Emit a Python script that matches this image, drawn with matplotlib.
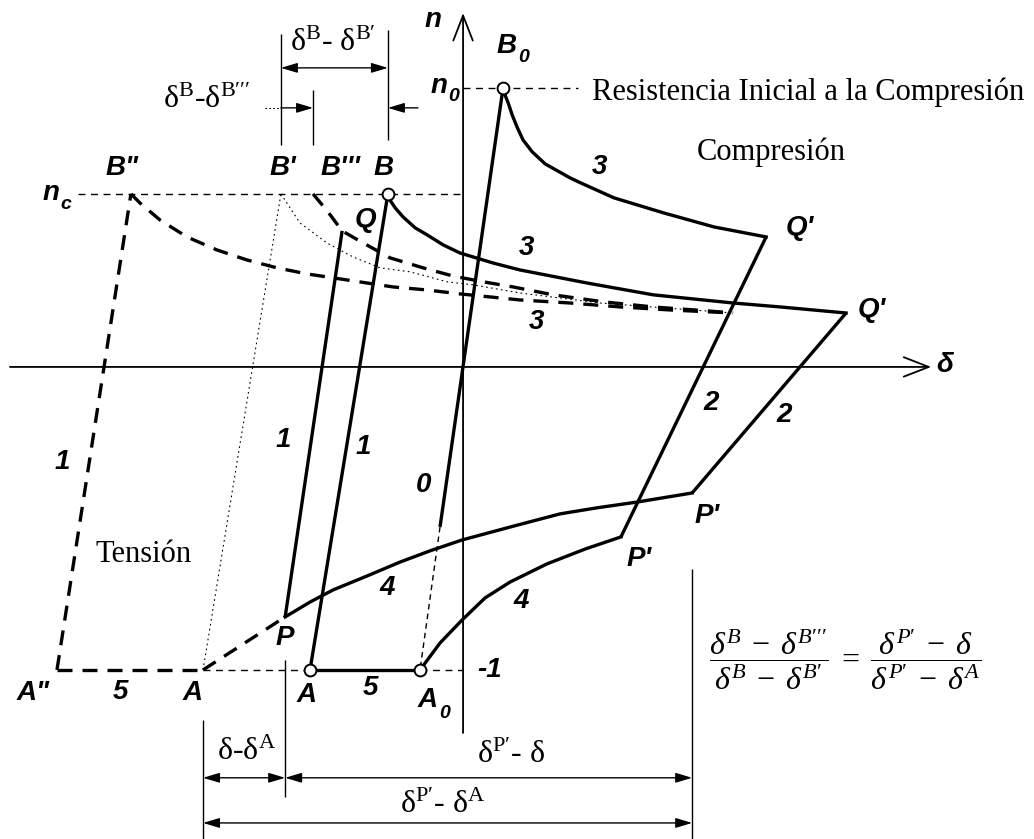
import numpy as np
import matplotlib.pyplot as plt

plt.rcParams['mathtext.fontset'] = 'custom'
plt.rcParams['mathtext.rm'] = 'Liberation Serif'
plt.rcParams['mathtext.it'] = 'Liberation Serif:italic'
plt.rcParams['mathtext.bf'] = 'Liberation Serif:bold'

# puntos característicos (delta, n), n normalizado con n = -1 en la rama de tensión
B0 = (0.132, 0.921)
B = (-0.248, 0.571)
B2 = (-1.096, 0.571)     # B''
B1 = (-0.601, 0.571)     # B'
B3 = (-0.495, 0.571)     # B'''
Q = (-0.399, 0.449)
Q1 = (1.000, 0.429)      # Q' superior
Q2 = (1.264, 0.178)      # Q' derecho
P = (-0.587, -0.825)
P1 = (0.521, -0.561)     # P' inferior
P2 = (0.756, -0.416)     # P' derecho
A2 = (-1.340, -1.0)      # A''
A_izq = (-0.858, -1.0)
A = (-0.505, -1.0)
A0 = (-0.142, -1.0)
quiebre0 = (-0.076, -0.528)

# rama 3 desde B0
c3_sup_d = [0.132, 0.149, 0.162, 0.178, 0.198, 0.228, 0.271, 0.353, 0.389, 0.498, 0.663, 0.828, 1.000]
c3_sup_n = [0.914, 0.871, 0.832, 0.792, 0.749, 0.710, 0.670, 0.624, 0.607, 0.558, 0.508, 0.462, 0.429]
# rama 3 desde B
c3_med_d = [-0.248, -0.224, -0.198, -0.158, -0.119, -0.066, -0.010, 0.099, 0.188, 0.409, 0.627, 0.891, 1.046, 1.264]
c3_med_n = [0.561, 0.525, 0.495, 0.459, 0.436, 0.403, 0.376, 0.343, 0.320, 0.277, 0.238, 0.211, 0.198, 0.178]
# rama 3 desde B'' (trazos)
c3_b2_d = [-1.096, -1.066, -1.000, -0.911, -0.812, -0.713, -0.614, -0.515, -0.429, -0.317, -0.231, -0.119, -0.010, 0.089, 0.188, 0.353, 0.518, 0.683, 0.891]
c3_b2_n = [0.571, 0.541, 0.485, 0.429, 0.386, 0.353, 0.327, 0.307, 0.294, 0.277, 0.264, 0.254, 0.241, 0.231, 0.221, 0.211, 0.198, 0.188, 0.178]
# rama 3 desde B''' pasando por Q (trazos)
c3_b3_d = [-0.495, -0.446, -0.399, -0.347, -0.241, -0.132, -0.033, 0.066, 0.165, 0.297, 0.462, 0.627, 0.805, 0.891]
c3_b3_n = [0.571, 0.512, 0.449, 0.419, 0.360, 0.327, 0.300, 0.281, 0.264, 0.238, 0.215, 0.198, 0.185, 0.178]
# rama 3 desde B' (punteada)
c3_b1_d = [-0.601, -0.538, -0.449, -0.363, -0.274, -0.175, -0.053, 0.033, 0.188, 0.452, 0.716, 0.891]
c3_b1_n = [0.571, 0.475, 0.409, 0.363, 0.327, 0.314, 0.281, 0.271, 0.244, 0.211, 0.191, 0.178]
# rama 4 desde P
c4_sup_d = [-0.587, -0.505, -0.429, -0.317, -0.208, -0.109, -0.003, 0.168, 0.320, 0.442, 0.574, 0.756]
c4_sup_n = [-0.825, -0.776, -0.736, -0.690, -0.644, -0.607, -0.571, -0.525, -0.485, -0.465, -0.446, -0.416]
# rama 4 desde A0
c4_inf_d = [-0.142, -0.076, -0.003, 0.073, 0.155, 0.277, 0.403, 0.521]
c4_inf_n = [-1.0, -0.911, -0.835, -0.762, -0.710, -0.650, -0.601, -0.561]

fig = plt.figure(figsize=(10.34, 8.39), dpi=100)
ax = fig.add_axes([0, 0, 1, 1])
ax.set_xlim(-1.528, 1.884)
ax.set_ylim(-1.558, 1.211)
ax.axis('off')

k = 'black'
grueso = 2.4
fino = 1.0


def linea(p, q, **kw):
    ax.plot([p[0], q[0]], [p[1], q[1]], color=k, solid_capstyle='butt', **kw)


# ejes
ax.annotate('', xy=(1.545, 0), xytext=(-1.495, 0),
            arrowprops=dict(arrowstyle='->,head_length=0.9,head_width=0.35', lw=1.3, color=k,
                            shrinkA=0, shrinkB=0, mutation_scale=20))
ax.annotate('', xy=(0, 1.168), xytext=(0, -1.208),
            arrowprops=dict(arrowstyle='->,head_length=0.9,head_width=0.35', lw=1.3, color=k,
                            shrinkA=0, shrinkB=0, mutation_scale=20))

# líneas de referencia n0, nc y n = -1
linea((-1.271, B[1]), (0, B[1]), lw=fino, ls=(0, (5, 4)))
linea((0, B0[1]), (0.380, B0[1]), lw=fino, ls=(0, (5, 4)))
linea(A_izq, A, lw=fino, ls=(0, (5, 4)))
linea(A0, (0, -1.0), lw=fino, ls=(0, (5, 4)))

# rama 0
linea(B0, quiebre0, lw=grueso)
linea(quiebre0, A0, lw=fino, ls=(0, (4, 3)))

# ramas 1
linea(A, B, lw=grueso)
linea(P, Q, lw=grueso)
linea(A2, B2, lw=grueso, ls=(0, (4.5, 3)))
linea(A_izq, B1, lw=0.8, ls=(0, (1.5, 3)))

# ramas 5
linea(A, A0, lw=grueso)
linea(A2, A_izq, lw=grueso, ls=(0, (4.5, 3)))
linea(A_izq, P, lw=grueso, ls=(0, (4.5, 3)))

# ramas 3
ax.plot(c3_sup_d, c3_sup_n, color=k, lw=grueso)
ax.plot(c3_med_d, c3_med_n, color=k, lw=grueso)
ax.plot(c3_b2_d, c3_b2_n, color=k, lw=grueso, ls=(0, (4.5, 3)))
ax.plot(c3_b3_d, c3_b3_n, color=k, lw=grueso, ls=(0, (4.5, 3)))
ax.plot(c3_b1_d, c3_b1_n, color=k, lw=0.8, ls=(0, (1.5, 3)))

# ramas 2
linea(Q1, P1, lw=grueso)
linea(Q2, P2, lw=grueso)

# ramas 4
ax.plot(c4_sup_d, c4_sup_n, color=k, lw=grueso)
ax.plot(c4_inf_d, c4_inf_n, color=k, lw=grueso)

# puntos huecos
for pt in (B0, B, A, A0):
    ax.plot(*pt, 'o', ms=8.5, mfc='white', mec=k, mew=1.4, zorder=5)

# etiquetas en negrita cursiva
etq = dict(family='Liberation Sans', weight='bold', style='italic', fontsize=20,
           ha='center', va='center', color=k)


def rotulo(x, y, s, sub=None, dx=12, dy=-8):
    ax.text(x, y, s, **etq)
    if sub:
        ax.annotate(sub, (x, y), xytext=(dx, dy), textcoords='offset points',
                    family='Liberation Sans', weight='bold', style='italic',
                    fontsize=14, ha='center', va='center', color=k)


rotulo(-0.099, 1.145, 'n')
rotulo(1.591, 0.007, 'δ')
rotulo(0.145, 1.058, 'B', '0')
rotulo(-0.078, 0.928, 'n', '0', dx=10)
rotulo(-1.358, 0.573, 'n', 'c', dx=10)
rotulo(-1.125, 0.657, 'B"')
rotulo(-0.594, 0.657, "B'")
rotulo(-0.406, 0.657, "B'''")
rotulo(-0.264, 0.657, 'B')
rotulo(-0.323, 0.485, 'Q')
rotulo(1.112, 0.459, "Q'")
rotulo(1.350, 0.188, "Q'")
rotulo(-0.587, -0.894, 'P')
rotulo(0.805, -0.492, "P'")
rotulo(0.581, -0.634, "P'")
rotulo(-1.419, -1.076, 'A"')
rotulo(-1.132, -1.073, '5')
rotulo(-0.891, -1.076, 'A')
rotulo(-0.515, -1.082, 'A')
rotulo(-0.307, -1.059, '5')
rotulo(-0.116, -1.099, 'A', '0', dx=12, dy=-10)
rotulo(0.089, -1.0, '-1')
rotulo(-1.323, -0.314, '1')
rotulo(-0.594, -0.241, '1')
rotulo(-0.330, -0.264, '1')
rotulo(-0.132, -0.389, '0')
rotulo(-0.251, -0.729, '4')
rotulo(0.191, -0.772, '4')
rotulo(0.818, -0.119, '2')
rotulo(1.059, -0.158, '2')
rotulo(0.449, 0.660, '3')
rotulo(0.208, 0.393, '3')
rotulo(0.241, 0.149, '3')

serif = dict(family='Liberation Serif', fontsize=22, color=k)
ax.text(0.426, 0.908, 'Resistencia Inicial a la Compresión', ha='left', va='center', **serif)
ax.text(0.772, 0.710, 'Compresión', ha='left', va='center', **serif)
ax.text(-1.053, -0.620, 'Tensión', ha='center', va='center', **serif)

# cotas
flecha = dict(arrowstyle='<|-|>,head_length=0.5,head_width=0.15', lw=1.0, color=k,
              shrinkA=0, shrinkB=0, mutation_scale=20)
flecha_un = dict(arrowstyle='-|>,head_length=0.5,head_width=0.15', lw=1.0, color=k,
                 shrinkA=0, shrinkB=0, mutation_scale=20)


def cota(x0, x1, y, estilo=flecha):
    ax.annotate('', xy=(x1, y), xytext=(x0, y), arrowprops=estilo)


linea((B1[0], 0.733), (B1[0], 1.099), lw=fino)
linea((B3[0], 0.733), (B3[0], 0.914), lw=fino)
linea((B[0], 0.749), (B[0], 1.112), lw=fino)
cota(B1[0], B[0], 0.987)
linea((-0.653, 0.855), (B1[0], 0.855), lw=0.8, ls=(0, (1.5, 2)))
cota(B1[0], B3[0], 0.855, flecha_un)
cota(-0.149, B[0], 0.855, flecha_un)

linea((A_izq[0], -1.165), (A_izq[0], -1.558), lw=fino)
linea((P[0], -0.967), (P[0], -1.419), lw=fino)
linea((P2[0], -0.667), (P2[0], -1.558), lw=fino)
cota(A_izq[0], P[0], -1.356)
cota(P[0], P2[0], -1.356)
cota(A_izq[0], P2[0], -1.505)

serif_c = dict(family='Liberation Serif', fontsize=23, color=k, ha='center', va='center')
ax.text(-0.429, 1.069, r"$\mathrm{\delta^{B}}$- $\mathrm{\delta^{B\prime}}$", **serif_c)
ax.text(-0.845, 0.881, r"$\mathrm{\delta^{B}}$-$\mathrm{\delta^{B\prime\prime\prime}}$", **serif_c)
ax.text(-0.716, -1.271, r"$\mathrm{\delta}$-$\mathrm{\delta^{A}}$", **serif_c)
ax.text(0.158, -1.281, r"$\mathrm{\delta^{P\prime}}$- $\mathrm{\delta}$", **serif_c)
ax.text(-0.066, -1.446, r"$\mathrm{\delta^{P\prime}}$- $\mathrm{\delta^{A}}$", **serif_c)

ax.text(1.261, -0.965,
        r"$\dfrac{\delta^{B}\;-\;\delta^{B\prime\prime\prime}}{\delta^{B}\;-\;\delta^{B\prime}}"
        r"\;=\;\dfrac{\delta^{P\prime}\;-\;\delta}{\delta^{P\prime}\;-\;\delta^{A}}$",
        fontsize=23, color=k, ha='center', va='center')

fig.savefig('out.png', dpi=100, facecolor='white')
